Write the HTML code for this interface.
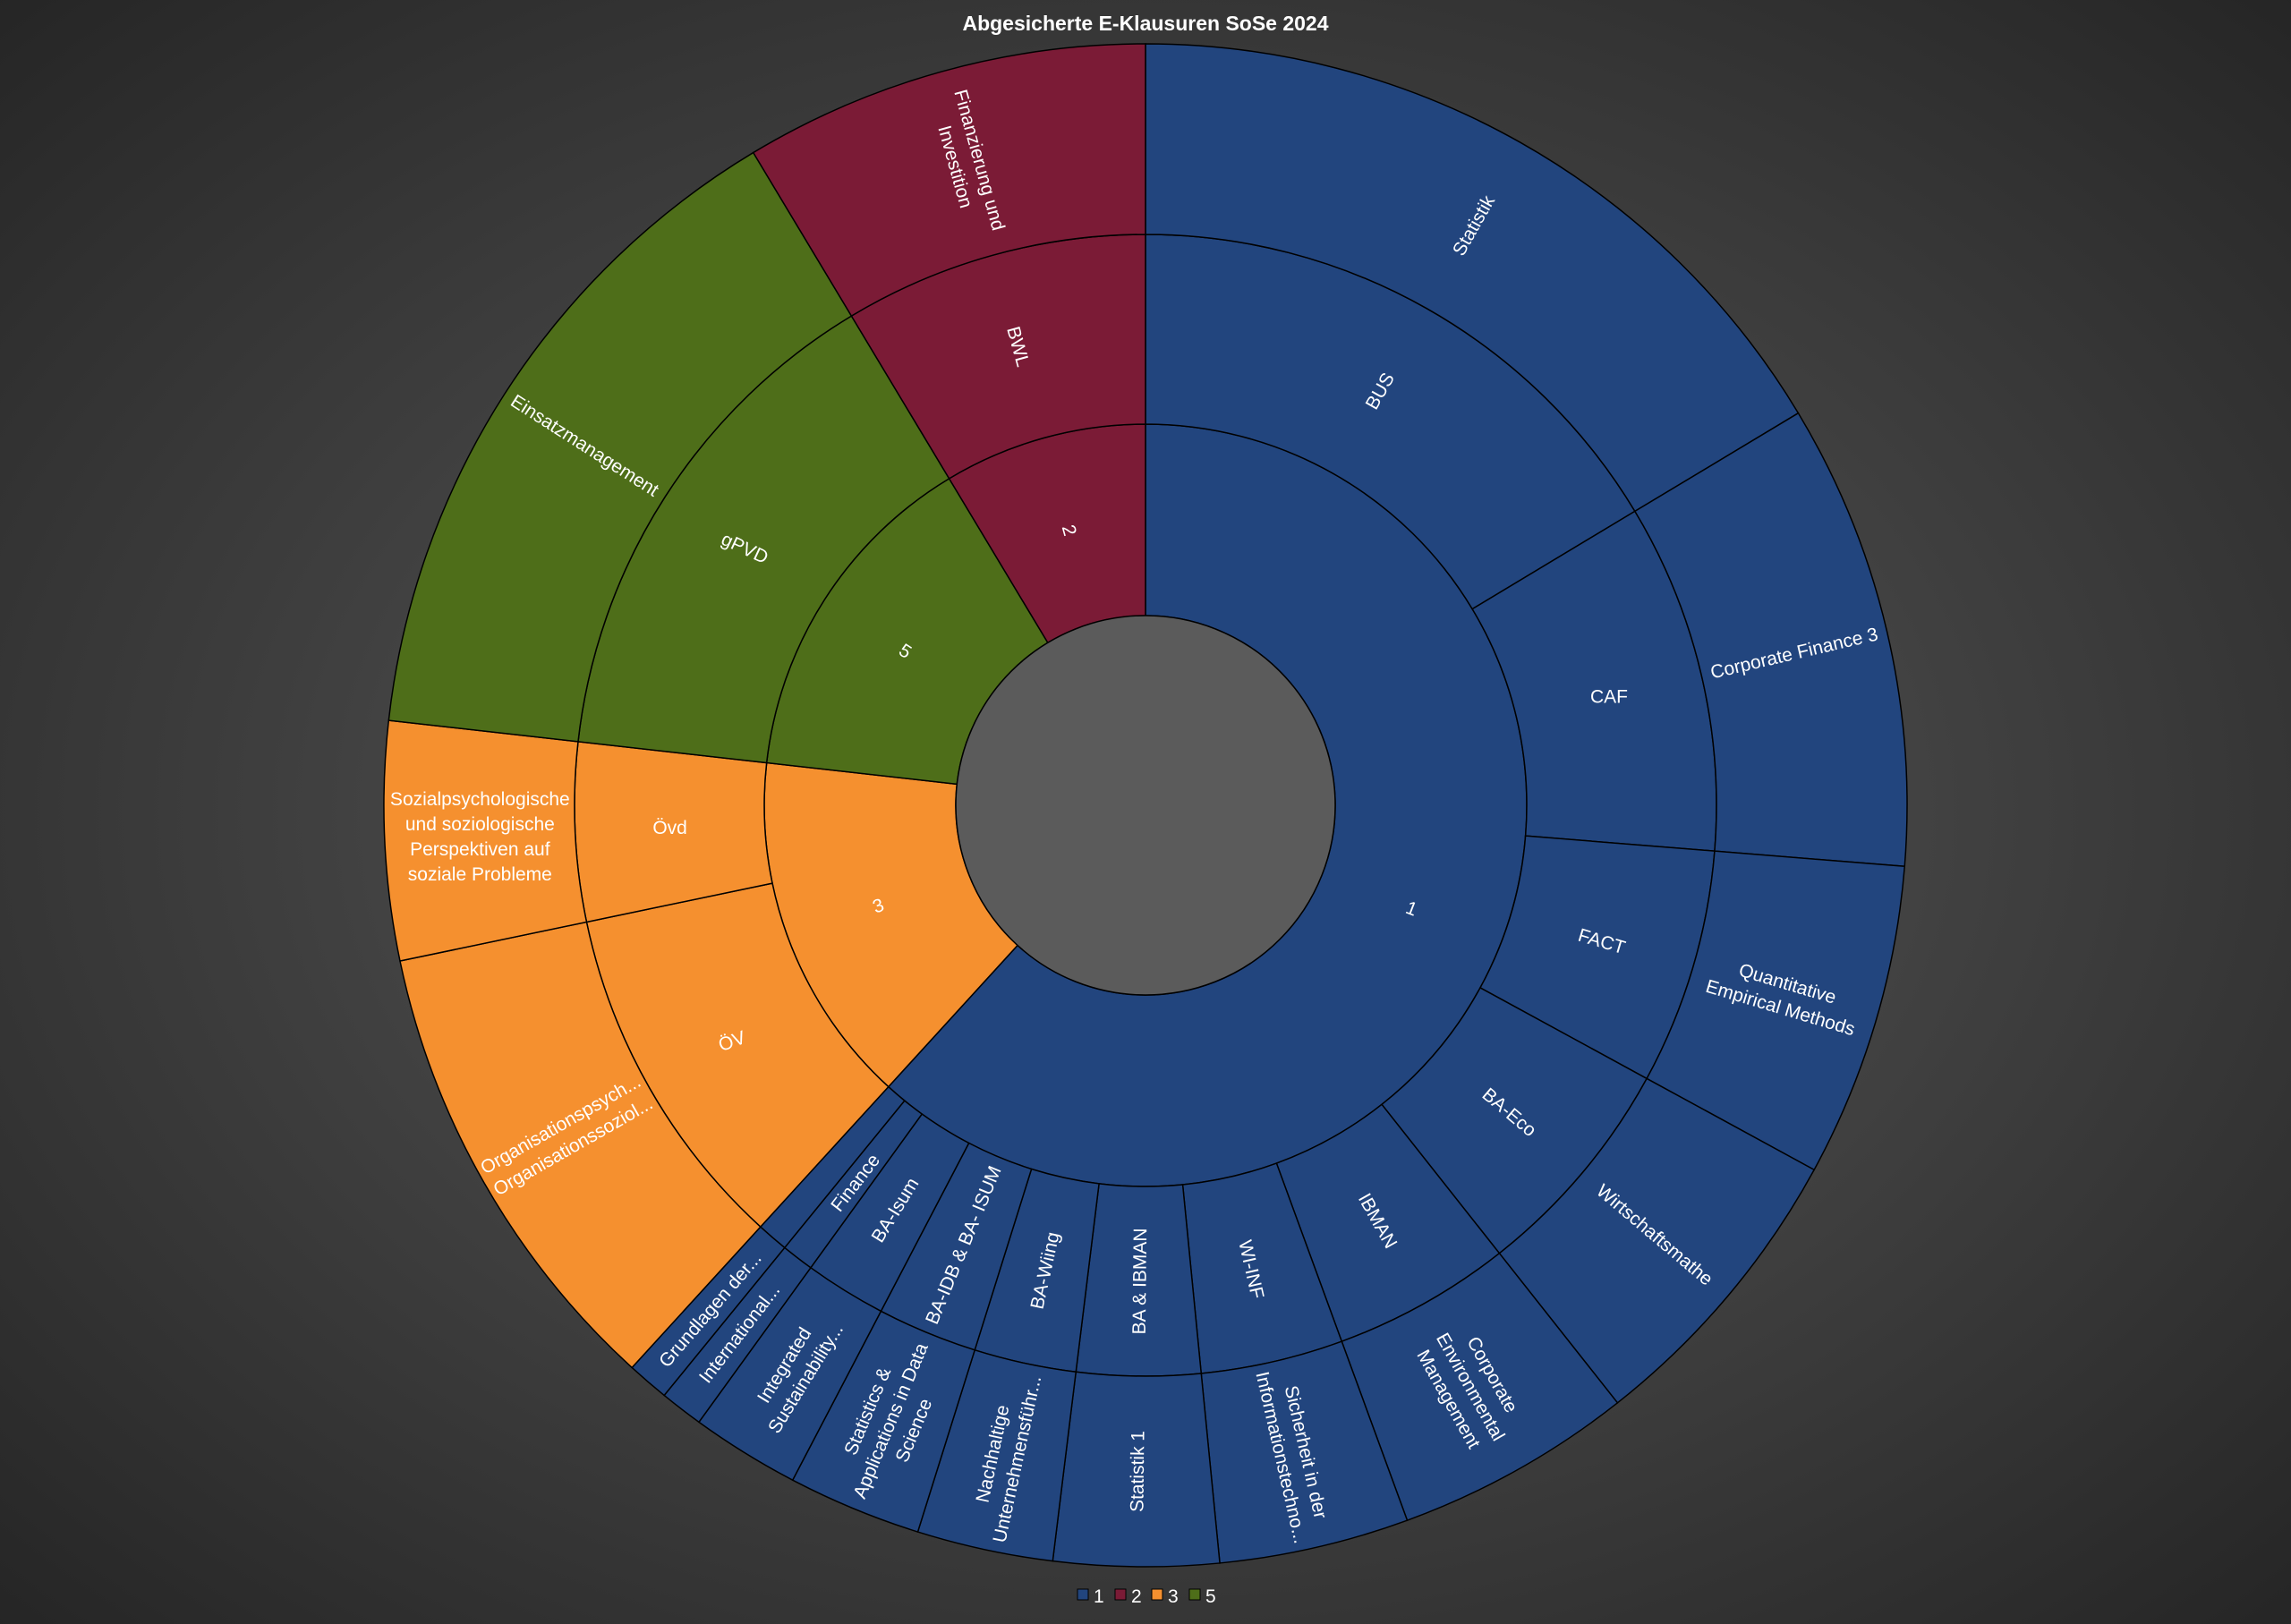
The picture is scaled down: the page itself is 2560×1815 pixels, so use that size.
<!DOCTYPE html>
<html><head><meta charset="utf-8"><style>
html,body{margin:0;padding:0;width:2560px;height:1815px;overflow:hidden;background:#3a3a3a}
svg{display:block}
text{font-family:"Liberation Sans",sans-serif;fill:#fff}
</style></head><body>
<svg id="s" width="2560" height="1815" viewBox="0 0 2560 1815" xmlns="http://www.w3.org/2000/svg">
<defs><radialGradient id="bg" cx="50%" cy="50%" r="75%">
<stop offset="0" stop-color="#5c5c5c"/><stop offset="1" stop-color="#222"/></radialGradient></defs>
<rect width="2560" height="1815" fill="url(#bg)"/>
<g id="g"></g>
<circle cx="1280" cy="900" r="212" fill="#5b5b5b" stroke="#000" stroke-width="1.5"/>
<text x="1280" y="34" text-anchor="middle" font-size="23" font-weight="bold">Abgesicherte E-Klausuren SoSe 2024</text>
<g font-size="21">
<rect x="1204" y="1776" width="12" height="12" fill="#22457e" stroke="#000"/><text x="1222" y="1791">1</text>
<rect x="1246" y="1776" width="12" height="12" fill="#7b1b36" stroke="#000"/><text x="1264" y="1791">2</text>
<rect x="1287" y="1776" width="12" height="12" fill="#f5902f" stroke="#000"/><text x="1305" y="1791">3</text>
<rect x="1329" y="1776" width="12" height="12" fill="#4e6e19" stroke="#000"/><text x="1347" y="1791">5</text>
</g>
</svg>
<script>
var cx=1280,cy=900,R=[212,426,638,851];
var B="#22457e",Rd="#7b1b36",O="#f5902f",G="#4e6e19";
function pt(r,a){var t=a*Math.PI/180;return [cx+r*Math.sin(t),cy-r*Math.cos(t)];}
var g=document.getElementById('g'),ns="http://www.w3.org/2000/svg",out="";
function seg(l,a1,a2,c,lines,rot){
 var r1=R[l],r2=R[l+1],p1=pt(r2,a1),p2=pt(r2,a2),p3=pt(r1,a2),p4=pt(r1,a1),lg=(a2-a1)>180?1:0;
 out+='<path d="M'+p1+' A'+r2+','+r2+' 0 '+lg+' 1 '+p2+' L'+p3+' A'+r1+','+r1+' 0 '+lg+' 0 '+p4+' Z" fill="'+c+'" stroke="#000" stroke-width="1.5"/>';
 if(!lines)return;
 var am=(a1+a2)/2,m=pt((r1+r2)/2,am);
 var ro=(rot!==undefined)?rot:(am<=180?am-90:am-270);
 var n=lines.length,lh=28,s='<text font-size="21" text-anchor="middle" transform="translate('+m[0]+','+m[1]+') rotate('+ro+')">';
 for(var i=0;i<n;i++){s+='<tspan x="0" y="'+((i-(n-1)/2)*lh+7)+'">'+lines[i]+'</tspan>';}
 out+=s+'</text>';
}
// level 1
seg(0,0,222.4,B,["1"]);
seg(0,222.4,276.4,O,["3"],-20);
seg(0,276.4,329,G,["5"]);
seg(0,329,360,Rd,["2"]);
// level 2
seg(1,0,59,B,["BUS"]);
seg(1,59,94.6,B,["CAF"],0);
seg(1,94.6,118.6,B,["FACT"]);
seg(1,118.6,141.7,B,["BA-Eco"]);
seg(1,141.7,159.9,B,["IBMAN"]);
seg(1,159.9,174.4,B,["WI-INF"]);
seg(1,174.4,187,B,["BA &amp; IBMAN"]);
seg(1,187,197.4,B,["BA-Wiing"]);
seg(1,197.4,207.6,B,["BA-IDB &amp; BA- ISUM"]);
seg(1,207.6,215.9,B,["BA-Isum"]);
seg(1,215.9,219.2,B,["Finance"]);
seg(1,219.2,222.4,B,null);
seg(1,222.4,258.2,O,["ÖV"],-20);
seg(1,258.2,276.4,O,["Övd"],0);
seg(1,276.4,329,G,["gPVD"],25);
seg(1,329,360,Rd,["BWL"]);
// level 3
seg(2,0,59,B,["Statistik"]);
seg(2,59,94.6,B,["Corporate Finance 3"]);
seg(2,94.6,118.6,B,["Quantitative","Empirical Methods"]);
seg(2,118.6,141.7,B,["Wirtschaftsmathe"]);
seg(2,141.7,159.9,B,["Corporate","Environmental","Management"]);
seg(2,159.9,174.4,B,["Sicherheit in der","Informationstechno..."]);
seg(2,174.4,187,B,["Statistik 1"]);
seg(2,187,197.4,B,["Nachhaltige","Unternehmensführ..."]);
seg(2,197.4,207.6,B,["Statistics &amp;","Applications in Data","Science"]);
seg(2,207.6,215.9,B,["Integrated","Sustainability..."]);
seg(2,215.9,219.2,B,["International..."]);
seg(2,219.2,222.4,B,["Grundlagen der..."]);
seg(2,222.4,258.2,O,["Organisationspsych...","Organisationssoziol..."]);
seg(2,258.2,276.4,O,["Sozialpsychologische","und soziologische","Perspektiven auf","soziale Probleme"],0);
seg(2,276.4,329,G,["Einsatzmanagement"]);
seg(2,329,360,Rd,["Finanzierung und","Investition"]);
g.innerHTML=out;
</script>
</body></html>
